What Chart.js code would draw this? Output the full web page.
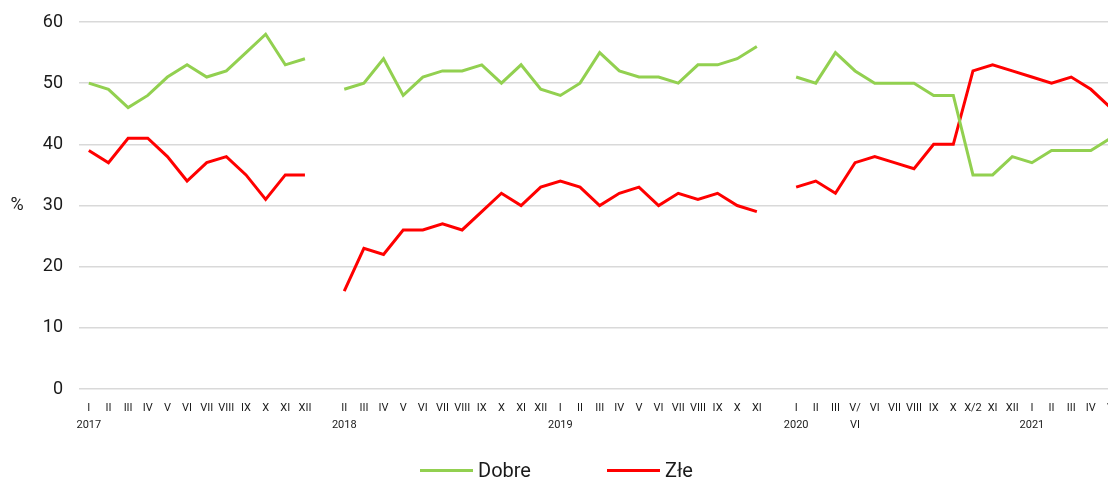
<!DOCTYPE html>
<html>
<head>
<meta charset="utf-8">
<script src="https://cdn.jsdelivr.net/npm/chart.js@4/dist/chart.umd.min.js"></script>
<style>
  body { margin: 0; background: #fff; overflow: hidden; font-family: Roboto, sans-serif; }
  .wrap { position: relative; width: 1108px; height: 479px; overflow: hidden; }
  .box { position: absolute; left: 0; top: 0; width: 1125px; height: 479px; }
  .legend { position: absolute; left: 420px; top: 458px; display: flex; align-items: center; font-size: 20px; color: #1a1a1a; }
  .legend .item { display: flex; align-items: center; margin-right: 76px; }
  .legend .swatch { width: 53px; height: 3px; margin-right: 5px; }
</style>
</head>
<body>
<div class="wrap">
  <div class="box"><canvas id="chart"></canvas></div>
  <div class="legend">
    <div class="item"><span class="swatch" style="background:#92d050"></span>Dobre</div>
    <div class="item"><span class="swatch" style="background:#ff0000"></span>Złe</div>
  </div>
</div>
<script>
// months (first line of the x labels), '' = empty slot between periods
const month_labels = [
  'I','II','III','IV','V','VI','VII','VIII','IX','X','XI','XII', '',
  'II','III','IV','V','VI','VII','VIII','IX','X','XI','XII',
  'I','II','III','IV','V','VI','VII','VIII','IX','X','XI', '',
  'I','II','III','V/','VI','VII','VIII','IX','X','X/2','XI','XII',
  'I','II','III','IV','V'
]
// second line of the x labels
const second_line = {0: '2017', 13: '2018', 24: '2019', 36: '2020', 39: 'VI', 48: '2021'}

const dobre = [
  50,49,46,48,51,53,51,52,55,58,53,54, null,
  49,50,54,48,51,52,52,53,50,53,49,
  48,50,55,52,51,51,50,53,53,54,56, null,
  51,50,55,52,50,50,50,48,48,35,35,38,
  37,39,39,39,41
]
const zle = [
  39,37,41,41,38,34,37,38,35,31,35,35, null,
  16,23,22,26,26,27,26,29,32,30,33,
  34,33,30,32,33,30,32,31,32,30,29, null,
  33,34,32,37,38,37,36,40,40,52,53,52,
  51,50,51,49,46
]

const y_ticks = [0, 10, 20, 30, 40, 50, 60]

const labels = month_labels.map((m, i) => second_line[i] ? [m, second_line[i]] : m)

// "%" next to the y axis, upright
const percent_label = {
  id: 'percent_label',
  afterDraw(chart) {
    const ctx = chart.ctx
    const area = chart.chartArea
    ctx.save()
    ctx.font = '18px Roboto'
    ctx.fillStyle = '#1a1a1a'
    ctx.textAlign = 'center'
    ctx.textBaseline = 'middle'
    ctx.fillText('%', 17, (area.top + area.bottom) / 2)
    ctx.restore()
  }
}

const ctx = document.getElementById('chart').getContext('2d')
new Chart(ctx, {
  type: 'line',
  data: {
    labels: labels,
    datasets: [
      {
        label: 'Dobre',
        data: dobre,
        borderColor: '#92d050',
        backgroundColor: '#92d050',
        borderWidth: 3,
        pointRadius: 0,
        tension: 0,
        spanGaps: false
      },
      {
        label: 'Złe',
        data: zle,
        borderColor: '#ff0000',
        backgroundColor: '#ff0000',
        borderWidth: 3,
        pointRadius: 0,
        tension: 0,
        spanGaps: false
      }
    ]
  },
  options: {
    responsive: true,
    maintainAspectRatio: false,
    animation: false,
    layout: { padding: { top: 22, right: 0, bottom: 35, left: 0 } },
    plugins: {
      legend: { display: false },
      tooltip: { enabled: false }
    },
    scales: {
      x: {
        offset: true,
        grid: { display: false, drawTicks: false },
        border: { display: false },
        ticks: {
          autoSkip: false,
          maxRotation: 0,
          minRotation: 0,
          padding: 11,
          color: '#1a1a1a',
          font: { family: 'Roboto', size: 11, lineHeight: '16.5px' }
        }
      },
      y: {
        min: 0,
        max: 60,
        afterBuildTicks: (scale) => { scale.ticks = y_ticks.map(v => ({ value: v })) },
        afterFit: (scale) => {
          scale.width = 79
          scale.paddingTop = 0
          scale.paddingBottom = 0
        },
        grid: { color: '#d9d9d9', lineWidth: 1.5, drawTicks: false },
        border: { display: false },
        ticks: {
          padding: 16,
          color: '#1a1a1a',
          font: { family: 'Roboto', size: 18 }
        }
      }
    }
  },
  plugins: [percent_label]
})
</script>
</body>
</html>
